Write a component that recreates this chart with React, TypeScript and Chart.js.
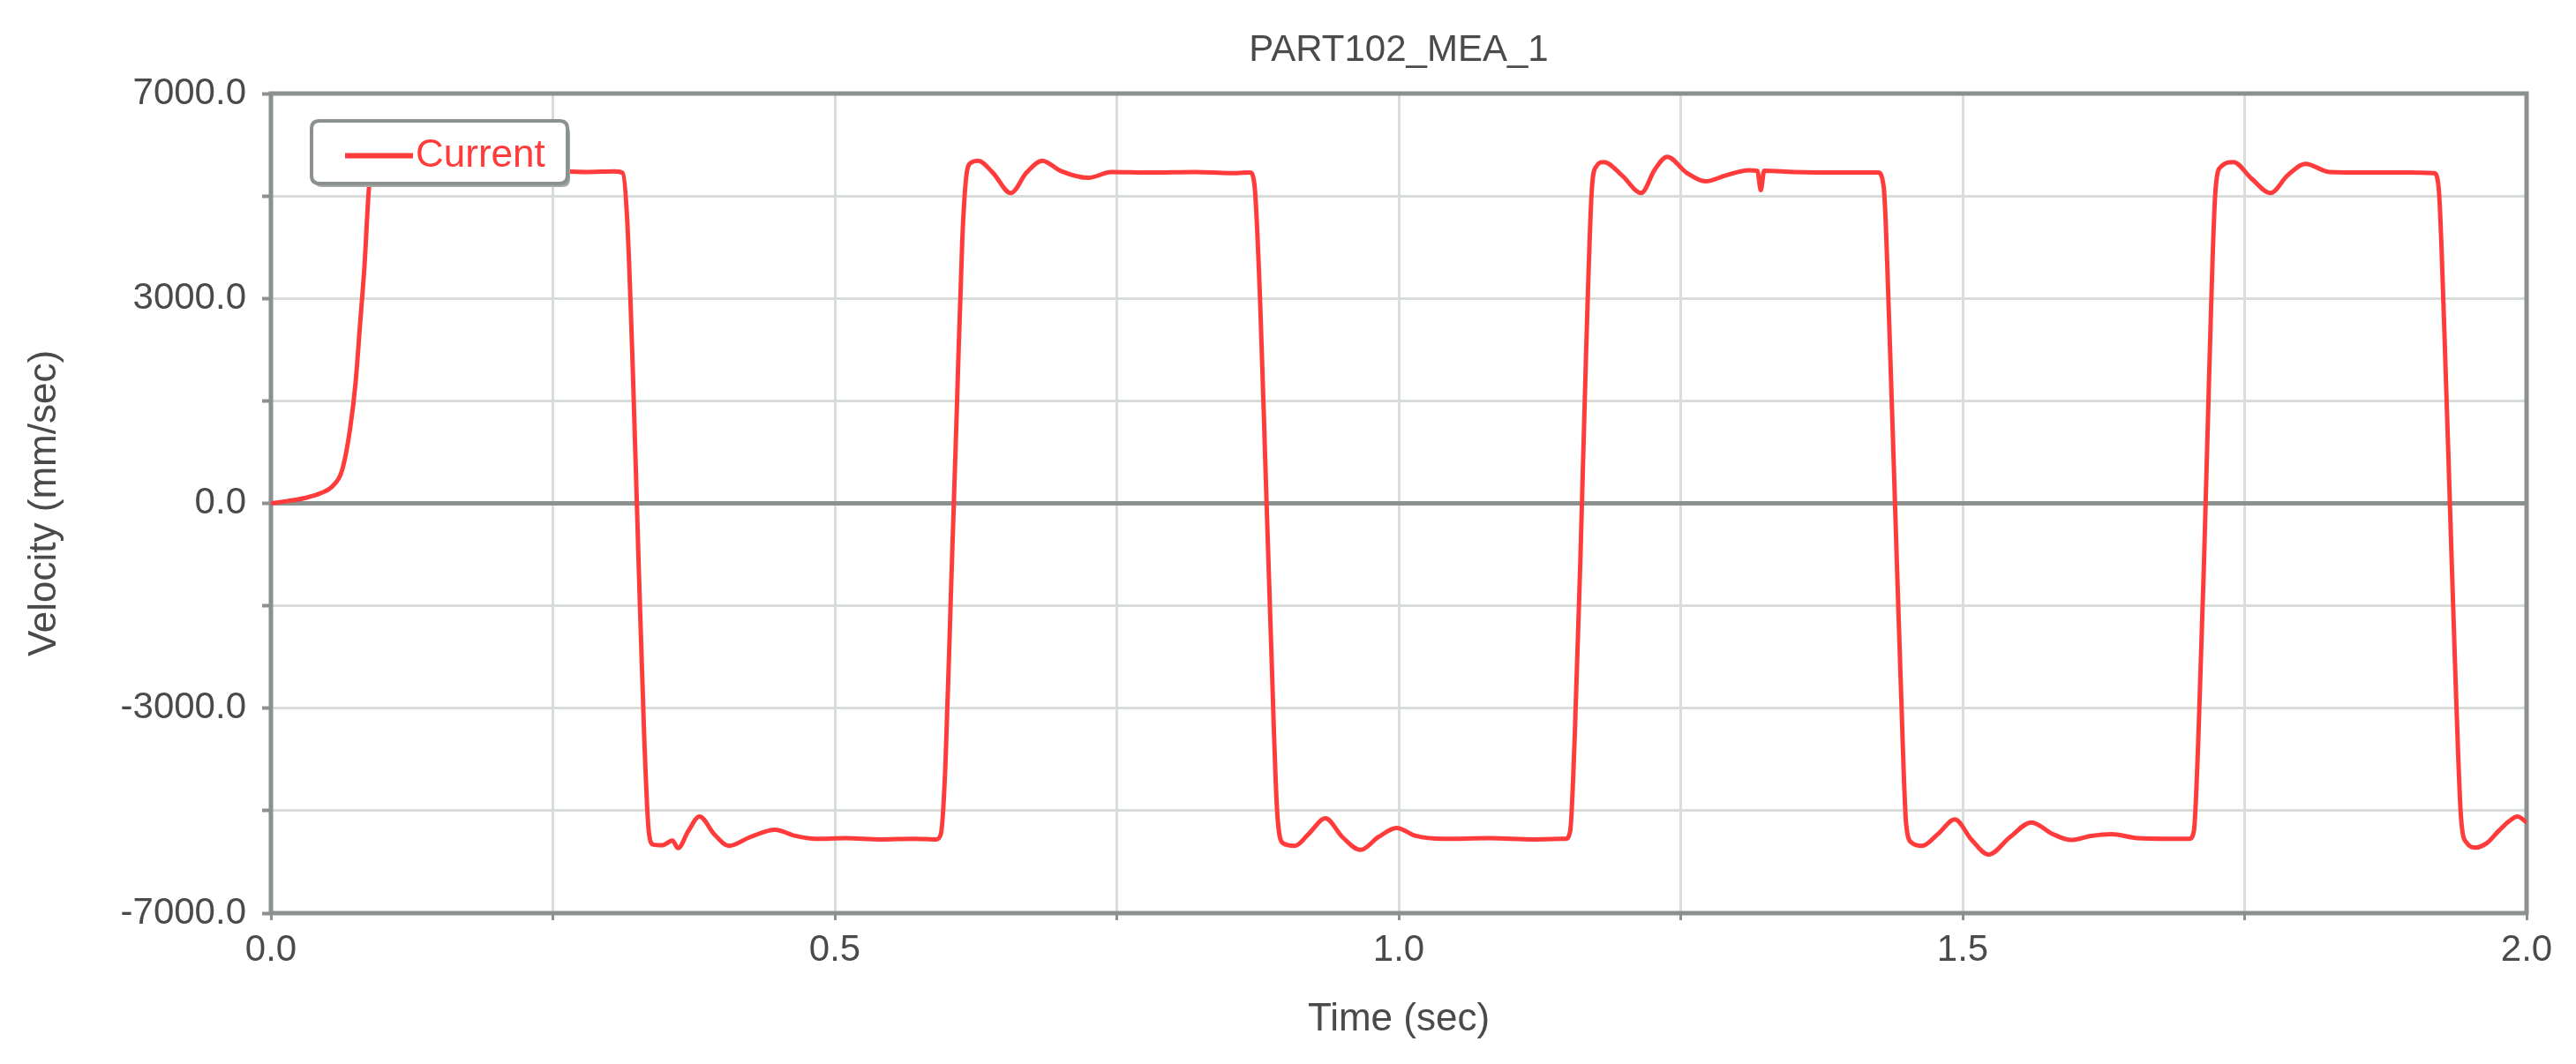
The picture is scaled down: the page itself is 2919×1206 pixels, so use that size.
import React, { useEffect, useRef } from "react";
import { Chart, registerables } from "chart.js";

Chart.register(...registerables);

const chartTitle = "PART102_MEA_1";
const seriesLabel = "Current";
const xAxisTitle = "Time (sec)";
const yAxisTitle = "Velocity (mm/sec)";

const xGridValues = [0, 0.25, 0.5, 0.75, 1.0, 1.25, 1.5, 1.75, 2.0];
const xTickLabels = ["0.0", "", "0.5", "", "1.0", "", "1.5", "", "2.0"];
const yGridValues = [-7000, -5250, -3500, -1750, 0, 1750, 3500, 5250, 7000];
const yTickLabels = ["-7000.0", "", "-3000.0", "", "0.0", "", "3000.0", "", "7000.0"];

const times = [
  0.0, 0.015, 0.03, 0.045, 0.055, 0.063, 0.07, 0.075, 0.079, 0.083, 0.087, 0.09,
  0.1, 0.13, 0.16, 0.2, 0.24, 0.28, 0.305, 0.312, 0.316, 0.321, 0.326, 0.331,
  0.335, 0.339, 0.347, 0.356, 0.361, 0.37, 0.38, 0.393, 0.406, 0.425, 0.447,
  0.465, 0.483, 0.51, 0.54, 0.57, 0.59, 0.594, 0.598, 0.603, 0.608, 0.613,
  0.617, 0.621, 0.627, 0.64, 0.656, 0.67, 0.684, 0.7, 0.725, 0.745, 0.78, 0.82,
  0.85, 0.868, 0.872, 0.877, 0.882, 0.887, 0.892, 0.897, 0.908, 0.92, 0.935,
  0.95, 0.966, 0.982, 0.998, 1.015, 1.04, 1.08, 1.12, 1.148, 1.152, 1.156,
  1.161, 1.166, 1.171, 1.175, 1.182, 1.198, 1.215, 1.227, 1.238, 1.255, 1.272,
  1.29, 1.31, 1.318, 1.321, 1.324, 1.35, 1.39, 1.425, 1.43, 1.435, 1.44, 1.445,
  1.45, 1.455, 1.464, 1.478, 1.493, 1.508, 1.523, 1.542, 1.561, 1.58, 1.596,
  1.614, 1.632, 1.655, 1.68, 1.701, 1.705, 1.709, 1.714, 1.719, 1.724, 1.729,
  1.74, 1.756, 1.773, 1.788, 1.804, 1.825, 1.86, 1.895, 1.918, 1.922, 1.927,
  1.932, 1.937, 1.942, 1.947, 1.955, 1.965, 1.975, 1.985, 1.992, 2.0,
];

const velocity = [
  0, 40, 90, 180, 300, 560, 1250, 2050, 3050, 4070, 5400, 5680,
  5700, 5670, 5690, 5660, 5680, 5660, 5670, 5640, 4800, 2200, -1000, -4000,
  -5600, -5830, -5840, -5760, -5890, -5600, -5350, -5650, -5850, -5700, -5575,
  -5680, -5730, -5720, -5740, -5730, -5740, -5650, -4500, -1500, 1500, 4500,
  5650, 5820, 5850, 5650, 5300, 5650, 5850, 5680, 5560, 5660, 5650, 5660,
  5640, 5650, 5450, 3500, 500, -2500, -5200, -5800, -5850, -5650, -5380,
  -5700, -5920, -5700, -5545, -5680, -5730, -5720, -5740, -5730, -5600, -4000,
  -1000, 2500, 5300, 5750, 5830, 5600, 5300, 5700, 5920, 5650, 5500,
  5600, 5690, 5680, 5350, 5680, 5660, 5650, 5650, 5400, 3000, 0, -3000,
  -5500, -5800, -5850, -5650, -5400, -5750, -6000, -5700, -5450, -5650, -5750,
  -5680, -5650, -5720, -5730, -5730, -5600, -4000, -1000, 2500, 5300, 5750,
  5830, 5550, 5300, 5600, 5800, 5660, 5650, 5650, 5640, 5400, 3000,
  0, -3000, -5400, -5800, -5880, -5800, -5600, -5420, -5350, -5450,
];

const FONT = "'Liberation Sans', Arial, Helvetica, sans-serif";
const TEXT_COLOR = "#4a4a4a";
const AXIS_COLOR = "#8a918e";
const GRID_COLOR = "#d8ddda";
const LINE_COLOR = "#ff3b3b";

const W = 2919;
const H = 1206;

const framePlugin = {
  id: "frameAndDecor",
  beforeDatasetsDraw(chart: any) {
    const { ctx, chartArea } = chart;
    ctx.save();
    ctx.strokeStyle = AXIS_COLOR;
    ctx.lineWidth = 5;
    ctx.strokeRect(
      chartArea.left,
      chartArea.top,
      chartArea.right - chartArea.left,
      chartArea.bottom - chartArea.top
    );
    ctx.restore();
  },
  afterDraw(chart: any) {
    const { ctx, chartArea } = chart;
    ctx.save();
    // Title
    ctx.fillStyle = TEXT_COLOR;
    ctx.font = `42px ${FONT}`;
    ctx.textAlign = "center";
    ctx.textBaseline = "middle";
    ctx.fillText(chartTitle, (chartArea.left + chartArea.right) / 2, 57);

    // Legend box inside plot
    const bx = chartArea.left + 46;
    const by = chartArea.top + 31;
    const bw = 290;
    const bh = 71;
    const r = 9;
    const roundRect = (x: number, y: number, w: number, h: number) => {
      ctx.beginPath();
      ctx.moveTo(x + r, y);
      ctx.lineTo(x + w - r, y);
      ctx.quadraticCurveTo(x + w, y, x + w, y + r);
      ctx.lineTo(x + w, y + h - r);
      ctx.quadraticCurveTo(x + w, y + h, x + w - r, y + h);
      ctx.lineTo(x + r, y + h);
      ctx.quadraticCurveTo(x, y + h, x, y + h - r);
      ctx.lineTo(x, y + r);
      ctx.quadraticCurveTo(x, y, x + r, y);
      ctx.closePath();
    };
    ctx.fillStyle = "#a3a8a6";
    roundRect(bx + 3, by + 4, bw, bh);
    ctx.fill();
    ctx.fillStyle = "#ffffff";
    roundRect(bx, by, bw, bh);
    ctx.fill();
    ctx.strokeStyle = AXIS_COLOR;
    ctx.lineWidth = 4;
    ctx.stroke();

    const ly = by + bh / 2 + 4;
    ctx.strokeStyle = LINE_COLOR;
    ctx.lineWidth = 6;
    ctx.beginPath();
    ctx.moveTo(bx + 38, ly);
    ctx.lineTo(bx + 115, ly);
    ctx.stroke();

    ctx.fillStyle = LINE_COLOR;
    ctx.font = `44px ${FONT}`;
    ctx.textAlign = "left";
    ctx.textBaseline = "middle";
    ctx.fillText(seriesLabel, bx + 118, ly);
    ctx.restore();
  },
};

export default function App() {
  const canvasRef = useRef<HTMLCanvasElement | null>(null);

  useEffect(() => {
    document.body.style.margin = "0";
    const canvas = canvasRef.current;
    if (!canvas) return;
    const points = times.map((t, i) => ({ x: t, y: velocity[i] }));

    const chart = new Chart(canvas, {
      type: "line",
      data: {
        datasets: [
          {
            label: seriesLabel,
            data: points,
            borderColor: LINE_COLOR,
            borderWidth: 5,
            pointRadius: 0,
            fill: false,
            cubicInterpolationMode: "monotone",
          },
        ],
      },
      options: {
        responsive: false,
        animation: false,
        devicePixelRatio: 1,
        layout: { padding: { top: 106, right: 56, left: 0, bottom: 0 } },
        plugins: {
          legend: { display: false },
          title: { display: false },
          tooltip: { enabled: false },
        },
        scales: {
          x: {
            type: "linear",
            min: 0,
            max: 2,
            afterBuildTicks: (s: any) => {
              s.ticks = xGridValues.map((v) => ({ value: v }));
            },
            afterFit: (s: any) => {
              s.height = 171;
            },
            ticks: {
              autoSkip: false,
              maxRotation: 0,
              padding: 9,
              color: TEXT_COLOR,
              font: { family: FONT, size: 42 },
              callback: (v: any) => {
                const i = xGridValues.findIndex((g) => Math.abs(g - Number(v)) < 1e-9);
                return i >= 0 ? xTickLabels[i] : "";
              },
            },
            grid: {
              color: GRID_COLOR,
              lineWidth: 3,
              tickLength: 8,
              tickColor: AXIS_COLOR,
              tickWidth: 3,
            },
            border: { display: false },
            title: {
              display: true,
              text: xAxisTitle,
              color: TEXT_COLOR,
              font: { family: FONT, size: 44 },
              padding: { top: 24, bottom: 24 },
            },
          },
          y: {
            type: "linear",
            min: -7000,
            max: 7000,
            afterBuildTicks: (s: any) => {
              s.ticks = yGridValues.map((v) => ({ value: v }));
            },
            afterFit: (s: any) => {
              s.width = 307;
            },
            ticks: {
              autoSkip: false,
              padding: 18,
              color: TEXT_COLOR,
              font: { family: FONT, size: 42 },
              callback: (v: any) => {
                const i = yGridValues.indexOf(Number(v));
                return i >= 0 ? yTickLabels[i] : "";
              },
            },
            grid: {
              color: (ctx: any) => (ctx.tick && ctx.tick.value === 0 ? AXIS_COLOR : GRID_COLOR),
              lineWidth: (ctx: any) => (ctx.tick && ctx.tick.value === 0 ? 5 : 3),
              tickLength: 10,
              tickColor: AXIS_COLOR,
              tickWidth: 4,
            },
            border: { display: false },
            title: {
              display: true,
              text: yAxisTitle,
              color: TEXT_COLOR,
              font: { family: FONT, size: 44 },
              padding: { top: 24, bottom: 24 },
            },
          },
        },
      } as any,
      plugins: [framePlugin],
    });

    return () => {
      chart.destroy();
    };
  }, []);

  return (
    <div style={{ width: W, height: H, background: "#ffffff" }}>
      <canvas ref={canvasRef} width={W} height={H} style={{ display: "block" }} />
    </div>
  );
}
